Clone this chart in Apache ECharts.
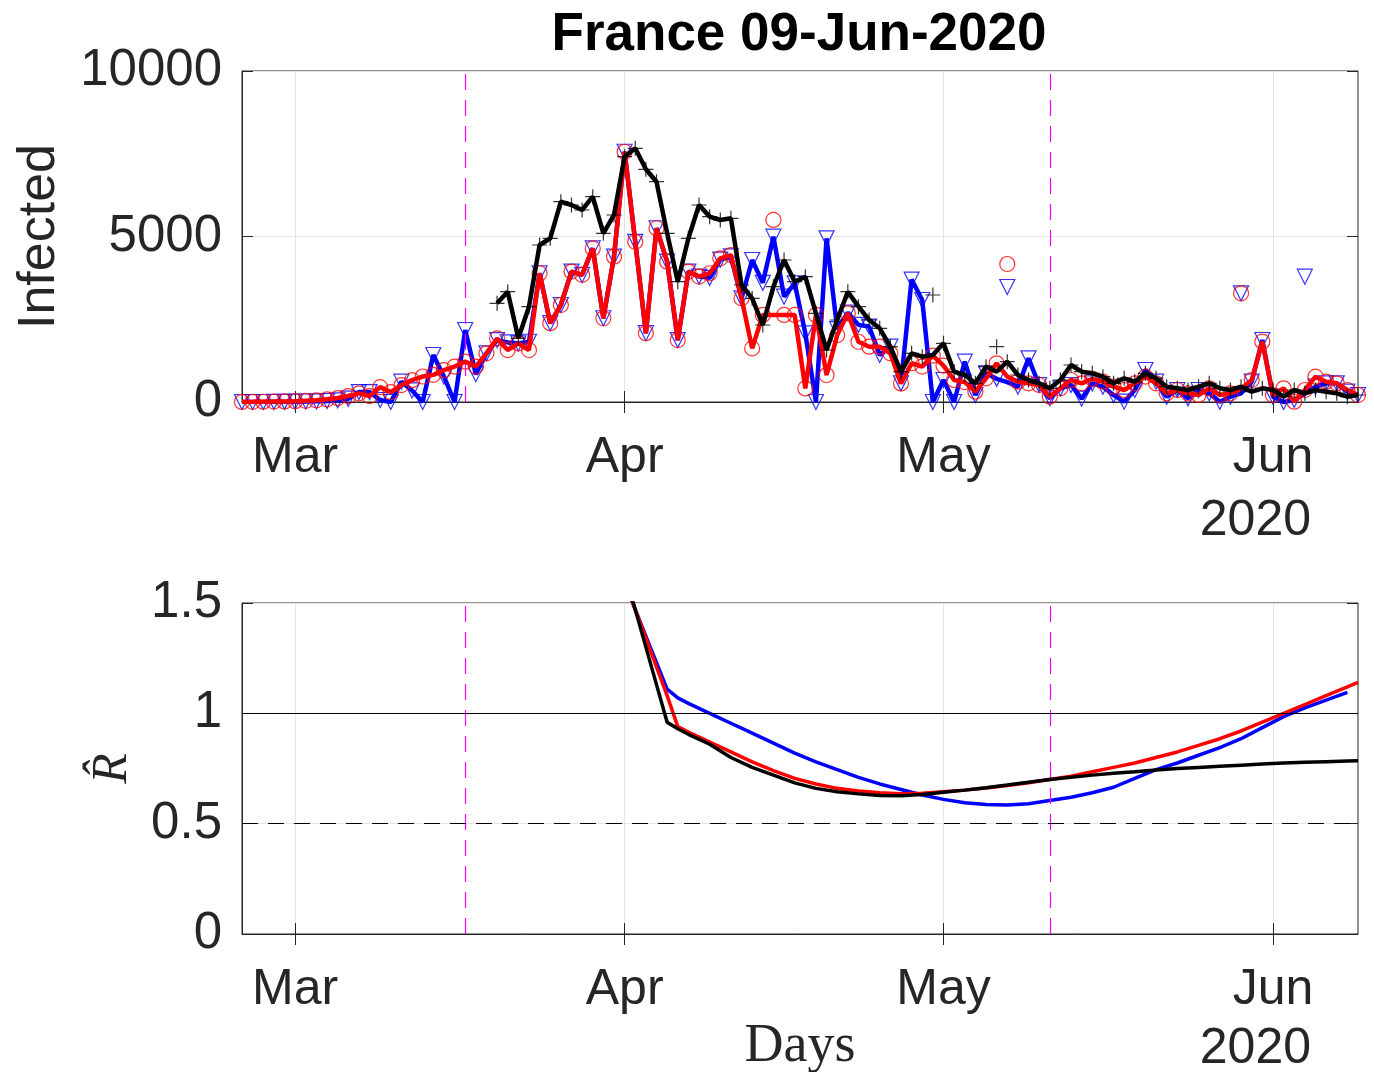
<!DOCTYPE html>
<html><head><meta charset="utf-8">
<script src="https://cdn.jsdelivr.net/npm/echarts@6/dist/echarts.min.js"></script>
<style>html,body{margin:0;padding:0;background:#fff}#c{width:1374px;height:1072px}</style>
</head><body><div id="c"></div>
<script>
// ---------- categories (one per day, 25-Feb-2020 .. 09-Jun-2020) ----------
const startDate = [2020, 1, 25];
const nDays = 106;
const days = [];
for (let i = 0; i < nDays; i++) {
  const d = new Date(Date.UTC(startDate[0], startDate[1], startDate[2] + i));
  days.push(d.toISOString().slice(0, 10));
}
const monthStarts = ['2020-03-01', '2020-04-01', '2020-05-01', '2020-06-01'];
const monthLabels = ['Mar', 'Apr', 'May', 'Jun'];
const yearLabel = '2020';
const markerDates = ['2020-03-17', '2020-05-11'];
const titleText = 'France 09-Jun-2020';

// ---------- top panel: daily infected ----------
const blueInfected = [
  0,0,0,5,5,10,15,20,30,50,
  100,300,300,60,0,614,350,0,1420,765,
  0,2175,840,1470,1870,1800,1770,1820,3890,2380,
  2930,3940,3840,4640,2530,4390,7560,4840,2080,5250,
  4240,1870,3940,3790,3750,4300,4400,3130,4290,3600,
  4995,3181,3585,2075,0,4945,2200,2700,2330,2280,
  1420,1670,563,3700,3082,0,665,0,1218,211,
  865,700,600,463,1319,513,111,413,514,100,
  564,463,212,10,363,967,614,161,363,111,
  363,262,10,161,262,614,1873,161,0,60,
  262,463,564,564,312,211
];
const redInfected = [
  3,5,8,12,18,25,35,50,80,120,
  180,260,180,450,300,510,660,770,820,960,
  1070,1220,1070,1470,1920,1570,1770,1570,3890,2380,
  2930,3940,3840,4640,2530,4390,7560,4840,2080,5250,
  4240,1870,3940,3790,3890,4340,4440,3130,1620,2630,
  2630,2630,2630,410,2630,815,2020,2680,1820,1670,
  1670,1470,560,1170,1070,1400,1100,665,600,312,
  715,1168,766,614,564,514,161,413,665,564,
  700,614,463,363,564,766,564,262,363,262,
  212,413,212,262,400,664,1822,211,413,10,
  362,765,614,564,362,211
];
const blackInfected = [
  null,null,null,null,null,null,null,null,null,null,
  null,null,null,null,null,null,null,null,null,null,
  null,null,null,null,2982,3333,1924,2880,4743,4945,
  6051,5952,5800,6203,5096,5650,7411,7664,7030,6656,
  5096,3635,4945,5952,5600,5498,5549,3535,3132,2326,
  3483,4290,3635,3786,2679,1571,2477,3333,2880,2477,
  2226,1672,915,1470,1369,1420,1772,916,816,564,
  1068,916,1219,816,665,564,413,665,1118,916,
  866,766,564,715,614,866,715,463,413,363,
  463,564,413,362,463,312,413,362,161,362,
  262,362,312,262,161,211
];
// raw observations that lie off the lines
const redOutlierDates = ['2020-04-15', '2020-05-07', '2020-05-29'];
const redOutlierValues = [5500, 4169, 3283];
const blueOutlierDates = ['2020-05-07', '2020-05-29', '2020-06-04'];
const blueOutlierValues = [3474, 3283, 3786];
const blackOutlierDates = ['2020-04-30', '2020-05-06'];
const blackOutlierValues = [3233, 1672];

const infectedTicks = { min: 0, max: 10000, interval: 5000 };

// ---------- bottom panel: R estimate ----------
const rDayIndex = [36,37,38,39,40,41,42,44,46,48,50,52,54,56,58,60,62,64,66,68,70,72,74,76,78,80,82,84,86,88,90,92,94,96,98,100,102,104,105];
const rBlue = [1.59,1.47,1.35,1.23,1.11,1.07,1.045,1.00,0.955,0.91,0.865,0.82,0.78,0.745,0.71,0.68,0.655,0.63,0.61,0.595,0.587,0.585,0.59,0.605,0.62,0.64,0.665,0.705,0.745,0.775,0.81,0.845,0.885,0.935,0.985,1.025,1.06,1.095,null];
const rRed = [1.60,1.47,1.34,1.21,1.08,0.94,0.915,0.87,0.825,0.78,0.74,0.705,0.68,0.66,0.648,0.64,0.636,0.638,0.645,0.652,0.662,0.673,0.685,0.70,0.715,0.735,0.755,0.775,0.80,0.825,0.855,0.885,0.92,0.96,1.00,1.04,1.08,1.12,1.14];
const rBlack = [1.64,1.47,1.30,1.13,0.96,0.93,0.905,0.86,0.80,0.755,0.72,0.685,0.66,0.645,0.635,0.628,0.627,0.632,0.642,0.652,0.663,0.675,0.688,0.70,0.71,0.72,0.728,0.735,0.743,0.75,0.755,0.76,0.765,0.77,0.775,0.778,0.781,0.784,0.785];
const rTicks = { min: 0, max: 1.5, interval: 0.5 };
const rRefSolid = 1;
const rRefDashed = 0.5;

// ---------- styling ----------
const FONT = 'Liberation Sans';
const AX = '#262626';
const GRIDC = '#e4e4e4';
const BLUE = '#0000ff', RED = '#ff0000', BLACK = '#000000', MAG = '#ff00ff';
const isMonth = (i, v) => monthStarts.indexOf(v) >= 0;

function rawFrom(line, dates, vals) {
  const out = line.map(v => (v === null ? '-' : v));
  dates.forEach((d, k) => { out[days.indexOf(d)] = vals[k]; });
  return out;
}
function xAxisMain(gi) {
  return {
    type: 'category', gridIndex: gi, data: days, boundaryGap: false, position: 'bottom',
    axisLine: { show: true, lineStyle: { color: AX, width: 1 } },
    axisTick: { show: true, inside: true, length: 11, interval: isMonth, lineStyle: { color: AX } },
    axisLabel: { show: true, interval: isMonth, margin: 31, color: AX, fontSize: 50, fontFamily: FONT,
      formatter: v => monthLabels[monthStarts.indexOf(v)] || '' },
    splitLine: { show: true, interval: isMonth, lineStyle: { color: GRIDC, width: 1 } }
  };
}
function xAxisTop(gi) {
  return {
    type: 'category', gridIndex: gi, data: days, boundaryGap: false, position: 'top',
    axisLine: { show: false },
    axisTick: { show: true, inside: true, length: 11, interval: isMonth, lineStyle: { color: AX } },
    axisLabel: { show: false }, splitLine: { show: false }
  };
}
function yAxisMain(gi, t, name, nameStyle, gap) {
  return {
    type: 'value', gridIndex: gi, min: t.min, max: t.max, interval: t.interval, position: 'left',
    name: name, nameLocation: 'middle', nameRotate: 90, nameGap: gap, nameTextStyle: nameStyle,
    axisLine: { show: true, lineStyle: { color: AX, width: 1 } },
    axisTick: { show: true, inside: true, length: 11, lineStyle: { color: AX } },
    axisLabel: { margin: 20, color: AX, fontSize: 51, fontFamily: FONT, formatter: v => String(v) },
    splitLine: { show: true, lineStyle: { color: GRIDC, width: 1 } }
  };
}
function yAxisRight(gi, t) {
  return {
    type: 'value', gridIndex: gi, min: t.min, max: t.max, interval: t.interval, position: 'right',
    axisLine: { show: false },
    axisTick: { show: true, inside: true, length: 11, lineStyle: { color: AX } },
    axisLabel: { show: false }, splitLine: { show: false }
  };
}
const vMarks = markerDates.map(d => ({ xAxis: d, lineStyle: { color: MAG, type: [16, 10], width: 1.2 } }));

function lineSeries(xi, yi, data, color, width, z, extra) {
  return Object.assign({
    type: 'line', xAxisIndex: xi, yAxisIndex: yi, data: data, showSymbol: false, symbol: 'none',
    connectNulls: false, lineStyle: { color: color, width: width }, itemStyle: { color: color },
    z: z, silent: true, animation: false
  }, extra || {});
}
function scatterSeries(xi, yi, data, symbol, size, color, rotate, z) {
  return {
    type: 'scatter', xAxisIndex: xi, yAxisIndex: yi, data: data, symbol: symbol, symbolSize: size,
    symbolRotate: rotate || 0,
    itemStyle: { color: 'rgba(0,0,0,0)', borderColor: color, borderWidth: 1.2 },
    z: z, silent: true, animation: false
  };
}
const plusPath = 'path://M5,0 L5,10 M0,5 L10,5';
const rPairs = arr => rDayIndex.map((d, i) => [days[d], arr[i]]).filter(p => p[1] !== null);

const option = {
  animation: false,
  backgroundColor: '#ffffff',
  textStyle: { fontFamily: FONT },
  title: {
    text: titleText, left: 794, top: 4, textAlign: 'center',
    textStyle: { fontFamily: FONT, fontSize: 53, fontWeight: 'bold', color: '#000' }
  },
  grid: [
    { left: 242, right: 16, top: 71, height: 331, show: true, borderColor: AX, borderWidth: 1,
      backgroundColor: 'rgba(0,0,0,0)', outerBoundsMode: 'none', containLabel: false },
    { left: 242, right: 16, top: 603, height: 331, show: true, borderColor: AX, borderWidth: 1,
      backgroundColor: 'rgba(0,0,0,0)', outerBoundsMode: 'none', containLabel: false }
  ],
  xAxis: [
    xAxisMain(0), xAxisTop(0),
    Object.assign(xAxisMain(1), { name: 'Days', nameLocation: 'middle', nameGap: 86,
      nameTextStyle: { fontFamily: 'Liberation Serif', fontSize: 54, color: AX } }),
    xAxisTop(1)
  ],
  yAxis: [
    yAxisMain(0, infectedTicks, 'Infected', { fontFamily: FONT, fontSize: 52, color: AX }, 176),
    yAxisRight(0, infectedTicks),
    yAxisMain(1, rTicks, 'R\u0302', { fontFamily: 'Liberation Serif', fontStyle: 'italic', fontSize: 50, color: AX }, 104),
    yAxisRight(1, rTicks)
  ],
  graphic: [
    { type: 'text', right: 1374 - 1311, top: 496, silent: true,
      style: { text: yearLabel, fontFamily: FONT, fontSize: 50, fill: AX, textAlign: 'right' } },
    { type: 'text', right: 1374 - 1311, top: 1024, silent: true,
      style: { text: yearLabel, fontFamily: FONT, fontSize: 50, fill: AX, textAlign: 'right' } }
  ],
  series: [
    lineSeries(0, 0, blueInfected, BLUE, 4.5, 3, {
      markLine: { silent: true, symbol: 'none', label: { show: false }, animation: false, data: vMarks }
    }),
    scatterSeries(0, 0, rawFrom(blueInfected, blueOutlierDates, blueOutlierValues), 'triangle', 15, BLUE, 180, 4),
    lineSeries(0, 0, redInfected, RED, 4.5, 5),
    scatterSeries(0, 0, rawFrom(redInfected, redOutlierDates, redOutlierValues), 'circle', 15, RED, 0, 6),
    lineSeries(0, 0, blackInfected, BLACK, 4.5, 7),
    scatterSeries(0, 0, rawFrom(blackInfected, blackOutlierDates, blackOutlierValues), plusPath, 15, BLACK, 0, 8),

    lineSeries(2, 2, rPairs(rBlue), BLUE, 3.5, 3, {
      markLine: { silent: true, symbol: 'none', label: { show: false }, animation: false,
        data: vMarks.concat([
          { yAxis: rRefSolid, lineStyle: { color: '#000', type: 'solid', width: 1 } },
          { yAxis: rRefDashed, lineStyle: { color: '#000', type: [16, 10], width: 1 } }
        ]) }
    }),
    lineSeries(2, 2, rPairs(rRed), RED, 3.5, 4),
    lineSeries(2, 2, rPairs(rBlack), BLACK, 3.5, 5)
  ]
};
const chart = echarts.init(document.getElementById('c'), null, { renderer: 'canvas' });
chart.setOption(option);
</script></body></html>
